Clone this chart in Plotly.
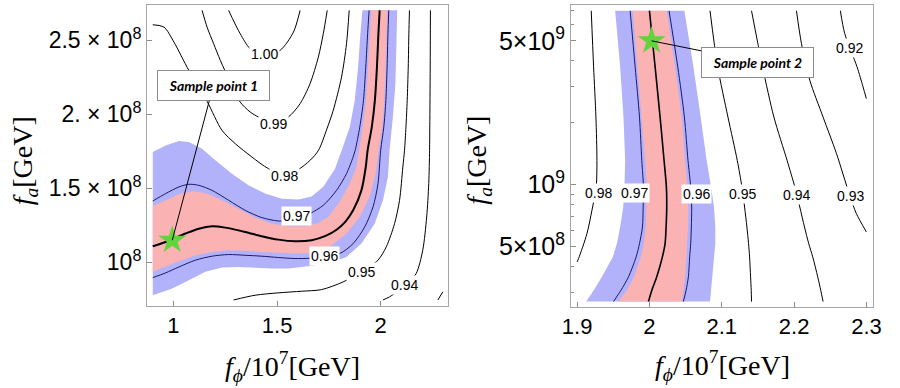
import numpy as np
import plotly.graph_objects as go

# ---------------- left panel: f_phi in 1e7 GeV, f_a in 1e8 GeV ----------------
L_blue_out_x = [0.9, 0.962, 1.026, 1.074, 1.138, 1.202, 1.282, 1.362, 1.442, 1.522, 1.603, 1.667, 1.723, 1.779, 1.812, 1.851, 1.875, 1.891, 1.902, 1.912]
L_blue_out_y = [1.745, 1.79, 1.82, 1.813, 1.768, 1.689, 1.599, 1.520, 1.464, 1.430, 1.425, 1.445, 1.51, 1.63, 1.757, 1.914, 2.095, 2.320, 2.545, 2.703]
L_blue_in_x = [0.9, 0.994, 1.074, 1.154, 1.234, 1.314, 1.394, 1.474, 1.554, 1.659, 1.755, 1.835, 1.907, 1.971, 2.011, 2.035, 2.043, 2.059, 2.071, 2.075, 2.080]
L_blue_in_y = [0.777, 0.822, 0.878, 0.935, 0.964, 0.968, 0.962, 0.957, 0.957, 0.975, 0.995, 1.036, 1.126, 1.261, 1.419, 1.576, 1.757, 1.982, 2.207, 2.432, 2.703]
L_red_out_x = [0.9, 0.962, 1.026, 1.090, 1.154, 1.234, 1.314, 1.394, 1.474, 1.554, 1.635, 1.699, 1.75, 1.803, 1.851, 1.883, 1.895, 1.913, 1.929, 1.940, 1.948, 1.955]
L_red_out_y = [1.378, 1.419, 1.459, 1.480, 1.468, 1.419, 1.358, 1.302, 1.261, 1.243, 1.243, 1.265, 1.31, 1.41, 1.532, 1.644, 1.757, 1.914, 2.095, 2.320, 2.545, 2.703]
L_red_in_x = [0.9, 0.962, 1.026, 1.106, 1.186, 1.266, 1.346, 1.426, 1.506, 1.587, 1.667, 1.75, 1.835, 1.899, 1.946, 1.976, 1.99, 2.008, 2.018, 2.024, 2.029, 2.033]
L_red_in_y = [0.935, 0.968, 1.007, 1.047, 1.070, 1.081, 1.077, 1.070, 1.063, 1.059, 1.063, 1.10, 1.194, 1.306, 1.441, 1.599, 1.757, 1.914, 2.095, 2.320, 2.545, 2.703]

L_center_x = [0.9, 0.962, 1.058, 1.122, 1.186, 1.25, 1.346, 1.426, 1.506, 1.587, 1.667, 1.731, 1.787, 1.83, 1.867, 1.907, 1.928, 1.937, 1.957, 1.972, 1.982, 1.989, 1.995]
L_center_y = [1.108, 1.137, 1.194, 1.227, 1.243, 1.234, 1.205, 1.176, 1.153, 1.142, 1.149, 1.176, 1.22, 1.275, 1.351, 1.486, 1.644, 1.757, 1.914, 2.095, 2.320, 2.545, 2.703]
L_c097_x = [0.9, 0.962, 1.026, 1.074, 1.122, 1.186, 1.266, 1.346, 1.426, 1.506, 1.59, 1.659, 1.723, 1.787, 1.835, 1.867, 1.877, 1.899, 1.917, 1.928, 1.937, 1.944]
L_c097_y = [1.414, 1.464, 1.509, 1.527, 1.520, 1.486, 1.419, 1.351, 1.302, 1.279, 1.285, 1.329, 1.385, 1.486, 1.599, 1.712, 1.757, 1.914, 2.095, 2.320, 2.545, 2.703]
L_c096_x = [0.9, 0.962, 1.026, 1.106, 1.186, 1.266, 1.346, 1.426, 1.506, 1.587, 1.66, 1.731, 1.803, 1.867, 1.923, 1.963, 1.987, 2.0, 2.015, 2.025, 2.031, 2.035, 2.039]
L_c096_y = [0.896, 0.928, 0.968, 1.014, 1.041, 1.052, 1.047, 1.041, 1.032, 1.025, 1.027, 1.04, 1.059, 1.126, 1.239, 1.374, 1.532, 1.757, 1.914, 2.095, 2.320, 2.545, 2.703]

L_c100_x = [1.266, 1.322, 1.370, 1.4375, 1.514, 1.579, 1.611]
L_c100_y = [2.703, 2.545, 2.444, 2.40, 2.432, 2.556, 2.703]
L_c099_x = [1.138, 1.162, 1.194, 1.226, 1.274, 1.322, 1.370, 1.410, 1.482, 1.554, 1.611, 1.659, 1.699, 1.723, 1.742]
L_c099_y = [2.703, 2.590, 2.477, 2.365, 2.218, 2.083, 2.016, 1.982, 1.945, 1.982, 2.072, 2.207, 2.387, 2.545, 2.703]
L_c098_x = [0.9, 0.954, 1.002, 1.074, 1.162, 1.234, 1.298, 1.378, 1.458, 1.538, 1.60, 1.66, 1.70, 1.74, 1.771, 1.811, 1.835, 1.848]
L_c098_y = [2.606, 2.59, 2.489, 2.297, 2.088, 1.892, 1.802, 1.712, 1.633, 1.595, 1.625, 1.69, 1.757, 1.90, 2.027, 2.252, 2.477, 2.703]
L_c095_x = [1.29, 1.394, 1.506, 1.619, 1.715, 1.819, 1.907, 1.987, 2.027, 2.067, 2.091, 2.107, 2.115, 2.122, 2.128, 2.133, 2.136, 2.139]
L_c095_y = [0.745, 0.777, 0.793, 0.804, 0.815, 0.867, 0.935, 1.014, 1.104, 1.261, 1.419, 1.644, 1.757, 1.914, 2.095, 2.320, 2.545, 2.703]
L_c094_x = [2.011, 2.043, 2.123, 2.171, 2.203, 2.222, 2.232, 2.236, 2.237, 2.239, 2.240]
L_c094_y = [0.745, 0.766, 0.849, 0.923, 1.081, 1.306, 1.532, 1.757, 1.914, 2.32, 2.703]
L_c093_x = [2.276, 2.30]
L_c093_y = [0.745, 0.80]

L_labels = ["1.00", "0.99", "0.98", "0.97", "0.96", "0.95", "0.94"]
L_label_x = [1.4375, 1.482, 1.538, 1.595, 1.731, 1.907, 2.115]
L_label_y = [2.41, 1.937, 1.581, 1.311, 1.04, 0.935, 0.849]
L_star = (0.994, 1.149)
L_box = (1.192, 2.193)

# ---------------- right panel: f_phi in 1e7 GeV, f_a in 1e9 GeV ----------------
R_y = [7.0, 3.74, 2.13, 1.31, 0.975, 0.778, 0.622, 0.516, 0.445, 0.356, 0.306, 0.27]
R_blue_left = [1.9526, 1.9595, 1.9641, 1.9664, 1.9655, 1.9637, 1.9595, 1.9549, 1.9494, 1.9343, 1.9228, 1.9126]
R_c097 = [1.9733, 1.9802, 1.9862, 1.9894, 1.9917, 1.9913, 1.9903, 1.9862, 1.9816, 1.9710, 1.9605, 1.9503]
R_red_left = [1.977, 1.9834, 1.9899, 1.994, 1.9963, 1.9959, 1.9949, 1.9922, 1.988, 1.9789, 1.9687, 1.9572]
R_center = [2.0, 2.0078, 2.0147, 2.0202, 2.0234, 2.0239, 2.023, 2.0216, 2.0179, 2.0101, 2.0032, 1.9986]
R_red_right = [2.0239, 2.0354, 2.0446, 2.0492, 2.0524, 2.0538, 2.0533, 2.0524, 2.051, 2.0492, 2.0469, 2.0446]
R_c096 = [2.0271, 2.0391, 2.0483, 2.0533, 2.057, 2.0584, 2.0579, 2.057, 2.0556, 2.0538, 2.0506, 2.0469]
R_blue_right = [2.0483, 2.0607, 2.0708, 2.0791, 2.0851, 2.0892, 2.091, 2.091, 2.0897, 2.0874, 2.0851, 2.0837]
R_c095 = [2.0837, 2.0943, 2.1085, 2.1214, 2.1278, 2.1315, 2.1347, 2.137, 2.1384, 2.1398, 2.1407, 2.1411]
R_c094 = [2.1411, 2.1563, 2.172, 2.1903, 2.2009, 2.2078, 2.2143, 2.2202, 2.2257, 2.2326, 2.2368, 2.24]
R_c098_x = [1.9195, 1.9228, 1.926, 1.9274, 1.9264, 1.9205, 1.9136, 1.902, 1.900]
R_c098_y = [7.0, 3.74, 2.13, 1.31, 0.975, 0.75, 0.578, 0.437, 0.421]
R_c093_x = [2.2032, 2.2101, 2.2216, 2.24, 2.2584, 2.2768, 2.286, 2.2998]
R_c093_y = [7.0, 4.85, 3.22, 2.13, 1.42, 0.887, 0.723, 0.589]
R_c092_x = [2.2639, 2.2699, 2.2869, 2.2952, 2.2998]
R_c092_y = [7.0, 5.43, 3.74, 2.99, 2.62]

R_labels = ["0.98", "0.97", "0.96", "0.95", "0.94", "0.93", "0.92"]
R_label_x = [1.9297, 1.9793, 2.0653, 2.1283, 2.2032, 2.2777, 2.2768]
R_label_y = [0.914, 0.91, 0.904, 0.897, 0.887, 0.881, 4.64]
R_star = (2.003, 5.0)
R_box = (2.149, 3.94)

BLUE = "rgb(178,178,250)"
RED = "rgb(250,178,178)"
NAVY = "rgb(25,25,110)"
GREEN = "rgb(95,212,60)"

fig = go.Figure()


def poly(xa, ya, xb, yb, color, xr, yr):
    fig.add_trace(go.Scatter(x=list(xa) + list(xb)[::-1], y=list(ya) + list(yb)[::-1],
                             fill="toself", fillcolor=color, mode="lines", line=dict(width=0),
                             xaxis=xr, yaxis=yr, hoverinfo="skip", showlegend=False))


def line(x, y, xr, yr, color="black", width=1):
    fig.add_trace(go.Scatter(x=x, y=y, mode="lines", line=dict(color=color, width=width, shape="spline", smoothing=0.8),
                             xaxis=xr, yaxis=yr, hoverinfo="skip", showlegend=False))


# left
poly(L_blue_out_x, L_blue_out_y, L_blue_in_x, L_blue_in_y, BLUE, "x", "y")
poly(L_red_out_x, L_red_out_y, L_red_in_x, L_red_in_y, RED, "x", "y")
for xs, ys in [(L_c100_x, L_c100_y), (L_c099_x, L_c099_y), (L_c098_x, L_c098_y),
               (L_c095_x, L_c095_y), (L_c094_x, L_c094_y), (L_c093_x, L_c093_y)]:
    line(xs, ys, "x", "y")
line(L_c097_x, L_c097_y, "x", "y", NAVY)
line(L_c096_x, L_c096_y, "x", "y", NAVY)
line(L_center_x, L_center_y, "x", "y", "black", 2)
fig.add_trace(go.Scatter(x=[L_star[0]], y=[L_star[1]], mode="markers", xaxis="x", yaxis="y",
                         marker=dict(symbol="star", size=21, color=GREEN, line=dict(width=0)), showlegend=False))

# right
poly(R_blue_left, R_y, R_blue_right, R_y, BLUE, "x2", "y2")
poly(R_red_left, R_y, R_red_right, R_y, RED, "x2", "y2")
for xs, ys in [(R_c098_x, R_c098_y), (R_c095, R_y), (R_c094, R_y), (R_c093_x, R_c093_y), (R_c092_x, R_c092_y)]:
    line(xs, ys, "x2", "y2")
line(R_c097, R_y, "x2", "y2", NAVY)
line(R_c096, R_y, "x2", "y2", NAVY)
line(R_center, R_y, "x2", "y2", "black", 1.6)
fig.add_trace(go.Scatter(x=[R_star[0]], y=[R_star[1]], mode="markers", xaxis="x2", yaxis="y2",
                         marker=dict(symbol="star", size=21, color=GREEN, line=dict(width=0)), showlegend=False))

lab_font = dict(family="Liberation Sans, Arial", size=14, color="black")
for t, x, y in zip(L_labels, L_label_x, L_label_y):
    fig.add_annotation(x=x, y=y, xref="x", yref="y", text=t, showarrow=False, font=lab_font,
                       bgcolor="white", borderpad=1)
for t, x, y in zip(R_labels, R_label_x, R_label_y):
    fig.add_annotation(x=x, y=np.log10(y), xref="x2", yref="y2", text=t, showarrow=False, font=lab_font,
                       bgcolor="white", borderpad=1)

box_font = dict(family="Lato, Open Sans", size=14, color="black")
fig.add_annotation(x=L_star[0], y=L_star[1], xref="x", yref="y", ax=L_box[0], ay=L_box[1], axref="x", ayref="y",
                   text="<b><i>Sample point 1</i></b>", showarrow=True, arrowhead=0, arrowwidth=1, arrowcolor="black",
                   font=box_font, bgcolor="white", bordercolor="#8c8c8c", borderwidth=1, borderpad=2,
                   width=107, height=25, standoff=0)
fig.add_annotation(x=R_star[0], y=np.log10(R_star[1]), xref="x2", yref="y2", ax=R_box[0], ay=np.log10(R_box[1]),
                   axref="x2", ayref="y2",
                   text="<b><i>Sample point 2</i></b>", showarrow=True, arrowhead=0, arrowwidth=1, arrowcolor="black",
                   font=box_font, bgcolor="white", bordercolor="#8c8c8c", borderwidth=1, borderpad=2,
                   width=107, height=25, standoff=0)

title_font = dict(family="Liberation Serif, Times New Roman", size=28, color="black")
xt = "<i>f</i><sub><i>ϕ</i></sub>/10<sup>7</sup>[GeV]"
yt = "<i>f</i><sub><i>a</i></sub>[GeV]"
for x, y, t, ang in [(0.3255, 0.056, xt, 0), (0.803, 0.058, xt, 0), (0.027, 0.585, yt, -90), (0.532, 0.588, yt, -90)]:
    fig.add_annotation(x=x, y=y, xref="paper", yref="paper", xanchor="center", yanchor="middle",
                       showarrow=False, font=title_font, textangle=ang, text=t)

ax_common = dict(showline=True, mirror=True, linecolor="#a6a6a6", linewidth=1, showgrid=False, zeroline=False,
                 ticks="inside", tickcolor="#8c8c8c", ticklen=5, tickmode="array", automargin=False)
tick_font = dict(family="Liberation Sans, Arial", color="black")

fig.update_layout(
    width=900, height=388, margin=dict(l=0, r=0, t=0, b=0, pad=0, autoexpand=False),
    paper_bgcolor="white", plot_bgcolor="white", showlegend=False,
    xaxis=dict(domain=[0.1633, 0.4978], range=[0.872, 2.325], anchor="y",
               tickvals=[1, 1.5, 2], ticktext=["1", "1.5", "2"], tickfont=dict(size=22, **tick_font), **ax_common),
    yaxis=dict(domain=[0.2113, 0.987], range=[0.704, 2.739], anchor="x",
               tickvals=[1, 1.5, 2, 2.5],
               ticktext=["10<sup>8</sup>", "1.5 × 10<sup>8</sup>", "2. × 10<sup>8</sup>", "2.5 × 10<sup>8</sup>"],
               tickfont=dict(size=23, **tick_font), **ax_common),
    xaxis2=dict(domain=[0.6344, 0.97], range=[1.8915, 2.309], anchor="y2",
                tickvals=[1.9, 2, 2.1, 2.2, 2.3], ticktext=["1.9", "2", "2.1", "2.2", "2.3"],
                tickfont=dict(size=22, **tick_font), **ax_common),
    yaxis2=dict(domain=[0.2088, 0.987], type="log", range=[-0.595, 0.873], anchor="x2",
                tickvals=[0.5, 1, 5], ticktext=["5×10<sup>8</sup>", "10<sup>9</sup>", "5×10<sup>9</sup>"],
                tickfont=dict(size=25, **tick_font),
                minor=dict(tickvals=[0.3, 0.4, 0.6, 0.7, 0.8, 0.9, 2, 3, 4, 6, 7], ticks="inside", ticklen=3,
                           tickcolor="#8c8c8c"),
                **ax_common),
)

fig.write_html("out.html", config={"displayModeBar": False}, post_script="document.body.style.margin='0';")
